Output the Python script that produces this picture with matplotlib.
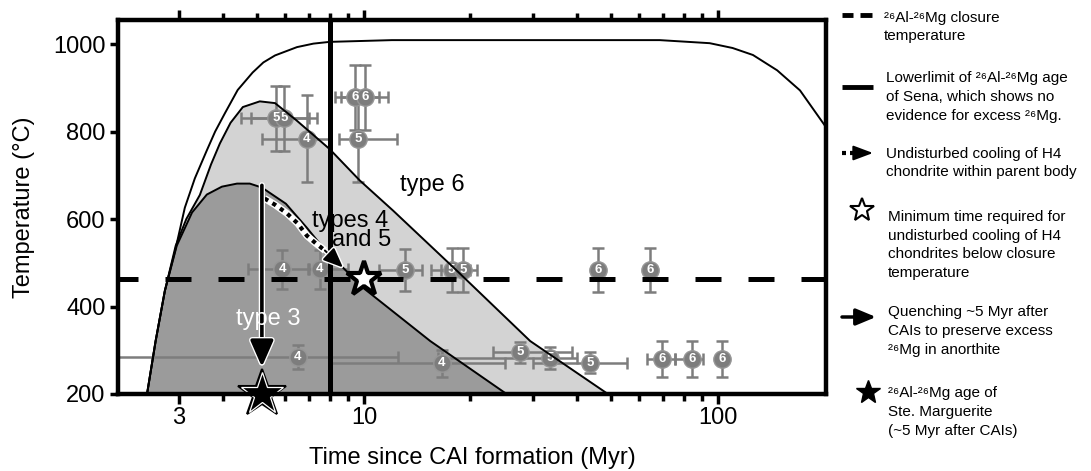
import matplotlib
matplotlib.use('Agg')
import matplotlib.pyplot as plt
from matplotlib import patheffects as pe
from matplotlib.ticker import FixedLocator, FixedFormatter, NullFormatter

plt.rcParams['font.family'] = ['Liberation Sans', 'DejaVu Sans']

# ---------------- data ----------------
# outer envelope (no fill)
outer_t = [2.44, 2.58, 2.74, 2.93, 3.12, 3.33, 3.6, 3.8, 4.05, 4.4, 4.85, 5.2, 5.61, 6.47, 7.2, 8.0,
           12, 30, 68.5, 94.8, 110, 125.6, 147, 170.6, 202]
outer_T = [200, 321, 436, 528, 626, 693, 757, 800, 842, 895, 935, 958, 974, 993, 1001, 1005,
           1009, 1009, 1009, 1002, 991, 975, 940, 894, 810]
# types 4 and 5 region (light grey)
light_t = [2.44, 2.58, 2.74, 2.94, 3.15, 3.44, 3.7, 3.92, 4.2, 4.55, 5.08, 5.61, 6.44,
           8.0, 9.74, 12.1, 18.3, 29.5, 48.9]
light_T = [200, 321, 436, 539, 600, 655, 725, 773, 820, 856, 869, 865, 826,
           760, 688, 619, 482, 321, 200]
# type 3 region (dark grey)
dark_t = [2.44, 2.58, 2.74, 2.96, 3.27, 3.6, 3.97, 4.38, 4.76, 5.15, 6.02, 6.9, 7.66,
          9.94, 15.4, 25.3]
dark_T = [200, 321, 436, 539, 615, 656, 674, 681, 681, 672, 635, 580, 535,
          443, 321, 200]

closure_T = 462          # 26Al-26Mg closure temperature
sena_t = 8.0             # lower limit of Sena age
min_cool_t, min_cool_T = 10.0, 463       # white star
marg_t, marg_T = 5.15, 200               # black star
quench_t = [5.15, 5.15]
quench_T = [677, 262]
cool_t = [5.24, 5.6, 6.06, 6.5, 6.9, 7.3, 7.76]
cool_T = [647, 633, 613, 590, 562, 545, 528]
cool_head_t, cool_head_T = 8.73, 489

# chondrite data points: time, temperature, type label, time range, temperature error
pt_t = [5.65, 5.95, 6.9, 9.43, 10.1, 9.62,
        5.87, 7.5, 13.06, 17.7, 19.05, 45.8, 64.3,
        6.5, 16.6, 27.6, 33.5, 43.5, 69.5, 84.5, 102.6]
pt_T = [830, 830, 784, 878, 878, 784,
        485, 485, 484, 484, 484, 484, 484,
        284, 270, 295, 283, 272, 280, 280, 280]
pt_label = ['5', '5', '4', '6', '6', '5',
            '4', '4', '5', '5', '5', '6', '6',
            '4', '4', '5', '5', '5', '6', '6', '6']
pt_tlo = [4.5, 4.8, 5.15, 8.28, 8.6, 8.5,
          4.7, 6.95, 11.0, 15.5, 16.5, 45.8, 64.3,
          1.5, 8.0, 23.1, 16.2, 30.0, 63.0, 75.6, 102.6]
pt_thi = [7.0, 7.35, 8.0, 11.0, 11.7, 12.4,
          7.0, 9.0, 14.6, 20.0, 20.9, 45.8, 64.3,
          12.5, 25.0, 38.7, 40.0, 55.3, 75.6, 90.6, 102.6]
pt_Terr = [75, 75, 100, 75, 75, 100,
           45, 45, 48, 50, 50, 50, 50,
           27, 30, 25, 25, 25, 42, 42, 42]

x_ticks = [3, 10, 100]
x_ticklabels = ['3', '10', '100']
y_ticks = [200, 400, 600, 800, 1000]

# ---------------- figure ----------------
W, H = 1091, 471
fig = plt.figure(figsize=(W / 100, H / 100), dpi=100)
ax = fig.add_axes([118 / W, 1 - 394 / H, (826 - 118) / W, (394 - 20) / H])
ax.set_xscale('log')
ax.set_xlim(2.02, 202)
ax.set_ylim(200, 1055)

grey_pt = '#7d7d7d'
ax.fill(light_t, light_T, facecolor='#d3d3d3', edgecolor='none', zorder=1)
ax.fill(dark_t, dark_T, facecolor='#9b9b9b', edgecolor='none', zorder=2)

# data points
for t, T, lo, hi, te in zip(pt_t, pt_T, pt_tlo, pt_thi, pt_Terr):
    ax.errorbar([t], [T], xerr=[[t - lo], [hi - t]], yerr=[[te], [te]], fmt='none',
                ecolor=grey_pt, elinewidth=1.8, capsize=4, capthick=1.8, zorder=3)
for t, T, lab in zip(pt_t, pt_T, pt_label):
    ax.plot([t], [T], marker='o', ms=12.5, mfc=grey_pt, mec='#969696', mew=1, zorder=4)
    ax.text(t, T, lab, color='white', fontsize=9.5, fontweight='bold', ha='center', va='center', zorder=5)

# region boundaries
ax.plot(light_t, light_T, color='k', lw=1.4, zorder=6)
ax.plot(dark_t, dark_T, color='k', lw=1.4, zorder=6)
ax.plot(outer_t, outer_T, color='k', lw=1.4, zorder=6)

# closure temperature and Sena lower limit
ax.axhline(closure_T, color='k', lw=3.6, linestyle=(1.2, (5.2, 5.4)), zorder=7)
ax.axvline(sena_t, color='k', lw=3.6, zorder=7)

# undisturbed cooling (dotted arrow)
ax.plot(cool_t, cool_T, color='white', lw=5, zorder=8, solid_capstyle='butt')
ax.plot(cool_t, cool_T, color='k', lw=3, dashes=(1, 1.2), zorder=9)
a1 = ax.annotate('', xy=(cool_head_t, cool_head_T), xytext=(cool_t[-1], cool_T[-1]),
                 arrowprops=dict(arrowstyle='-|>,head_length=1.2,head_width=0.5', color='k',
                                 lw=1.5, shrinkA=0, shrinkB=0), zorder=9)
a1.arrow_patch.set_path_effects([pe.Stroke(linewidth=3.5, foreground='white'), pe.Normal()])

# quenching arrow
a2 = ax.annotate('', xy=(quench_t[1], quench_T[1]), xytext=(quench_t[0], quench_T[0]),
                 arrowprops=dict(arrowstyle='-|>,head_length=1.6,head_width=0.7', color='k',
                                 lw=2.6, shrinkA=0, shrinkB=0), zorder=9)
a2.arrow_patch.set_path_effects([pe.Stroke(linewidth=4.5, foreground='white'), pe.Normal()])

# stars
ax.plot([min_cool_t], [min_cool_T], marker='*', ms=26, mfc='white', mec='k', mew=3, zorder=10)
ax.plot([marg_t], [marg_T], marker='*', ms=36, mfc='k', mec='k', mew=1.5, zorder=10, clip_on=False)
ax.plot([marg_t], [marg_T], marker='*', ms=32, mfc='k', mec='white', mew=0.9, zorder=11, clip_on=False)

# region labels
ax.text(15.6, 677, 'type 6', fontsize=17, ha='center', va='center', zorder=12)
ax.text(9.13, 596, 'types 4', fontsize=17, ha='center', va='center', zorder=12)
ax.text(9.87, 551, 'and 5', fontsize=17, ha='center', va='center', zorder=12)
ax.text(5.36, 372, 'type 3', fontsize=17, color='white', ha='center', va='center', zorder=12)

# axes styling
for s in ax.spines.values():
    s.set_linewidth(3.2)
    s.set_zorder(13)
ax.xaxis.set_major_locator(FixedLocator(x_ticks))
ax.xaxis.set_major_formatter(FixedFormatter(x_ticklabels))
ax.xaxis.set_minor_locator(FixedLocator([4, 5, 6, 7, 8, 9, 20, 30, 40, 50, 60, 70, 80, 90]))
ax.xaxis.set_minor_formatter(NullFormatter())
ax.set_yticks(y_ticks)
ax.tick_params(axis='x', which='both', direction='out', top=True, bottom=True,
               labeltop=False, width=2.5, labelsize=17, pad=2)
ax.tick_params(axis='x', which='major', length=7)
ax.tick_params(axis='x', which='minor', length=5)
ax.tick_params(axis='y', which='both', direction='out', left=True, right=False,
               width=2.5, length=6, labelsize=17, pad=3)
ax.set_xlabel('Time since CAI formation (Myr)', fontsize=17, labelpad=13)
ax.set_ylabel('Temperature (°C)', fontsize=17, labelpad=13)

# ---------------- legend (figure pixel space) ----------------
lax = fig.add_axes([0, 0, 1, 1], zorder=20)
lax.set_xlim(0, W)
lax.set_ylim(H, 0)
lax.axis('off')
fs = 11
ls = 1.45
lax.plot([842, 853], [15, 15], color='k', lw=3.5, solid_capstyle='butt')
lax.plot([860, 872], [15, 15], color='k', lw=3.5, solid_capstyle='butt')
lax.text(884, 27, '²⁶Al-²⁶Mg closure\ntemperature', fontsize=fs, va='center', linespacing=ls)
lax.plot([842, 873], [87, 87], color='k', lw=3.5, solid_capstyle='butt')
lax.text(886, 97, 'Lowerlimit of ²⁶Al-²⁶Mg age\nof Sena, which shows no\nevidence for excess ²⁶Mg.',
         fontsize=fs, va='center', linespacing=ls)
lax.plot([842, 846], [153, 153], color='k', lw=3, solid_capstyle='butt')
lax.plot([850, 854], [153, 153], color='k', lw=3, solid_capstyle='butt')
lax.annotate('', xy=(873, 153), xytext=(857, 153),
             arrowprops=dict(arrowstyle='-|>,head_length=1.2,head_width=0.45', color='k', lw=1.5,
                             shrinkA=0, shrinkB=0))
lax.text(886, 163, 'Undisturbed cooling of H4\nchondrite within parent body', fontsize=fs, va='center', linespacing=ls)
lax.plot([862], [210], marker='*', ms=18, mfc='white', mec='k', mew=1.5)
lax.text(888, 245, 'Minimum time required for\nundisturbed cooling of H4\nchondrites below closure\ntemperature',
         fontsize=fs, va='center', linespacing=ls)
lax.annotate('', xy=(876, 317), xytext=(842, 317),
             arrowprops=dict(arrowstyle='-|>,head_length=1.2,head_width=0.5', color='k', lw=2.5,
                             shrinkA=0, shrinkB=0))
lax.text(888, 331, 'Quenching ~5 Myr after\nCAIs to preserve excess\n²⁶Mg in anorthite',
         fontsize=fs, va='center', linespacing=ls)
lax.plot([868], [392], marker='*', ms=18, mfc='k', mec='k', mew=1)
lax.text(888, 412, '²⁶Al-²⁶Mg age of\nSte. Marguerite\n(~5 Myr after CAIs)',
         fontsize=fs, va='center', linespacing=ls)

fig.savefig('out.png', dpi=100)
